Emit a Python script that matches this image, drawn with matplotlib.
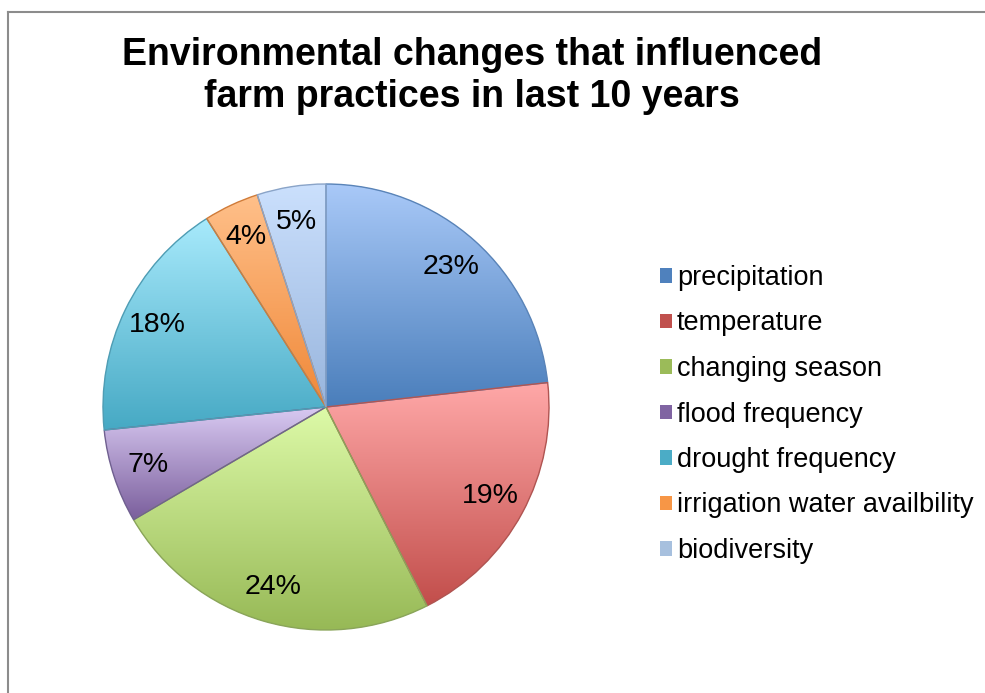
import numpy as np
import matplotlib
matplotlib.use('Agg')
import matplotlib.pyplot as plt
from matplotlib.patches import Wedge
from matplotlib.lines import Line2D
from matplotlib.colors import to_rgb

plt.rcParams['font.family'] = ['Liberation Sans', 'DejaVu Sans']

categories = ['precipitation', 'temperature', 'changing season', 'flood frequency',
              'drought frequency', 'irrigation water availbility', 'biodiversity']
shares = [23.3, 19.3, 24.1, 6.8, 17.7, 4.0, 5.0]

base_colors = ['#4f81bd', '#c0504d', '#9bbb59', '#8064a2', '#4bacc6', '#f79646', '#a7c0de']
top_colors = ['#a9c9f8', '#ffa8a8', '#ddfaa8', '#d9caf2', '#a8eafc', '#ffc08a', '#cbe0fd']
bot_colors = ['#4a7ebb', '#c24e4b', '#97b956', '#7a5e9c', '#46a9c4', '#f08838', '#98b5dd']
edge_colors = ['#5a84b8', '#b05552', '#8aa55a', '#706090', '#4f9db4', '#d07c3a', '#8aa4c8']

fig = plt.figure(figsize=(9.85, 6.93), dpi=100)

# pie area: centre ~ (326, 407) px, radius ~223 px
W, H = 985, 693
cx, cy, r = 326, 407, 223
pad = 1.02
ax = fig.add_axes([(cx - r * pad) / W, (H - cy - r * pad) / H, 2 * r * pad / W, 2 * r * pad / H])

wedges, texts, autotexts = ax.pie(shares, colors=base_colors, startangle=90, counterclock=False,
                                  autopct='%.0f%%', pctdistance=0.84,
                                  textprops={'fontsize': 20.5, 'color': 'black'},
                                  wedgeprops={'linewidth': 0})

# vertical gradient on each slice, light on top, dark at the bottom
for i, w in enumerate(wedges):
    ext = w.get_path().get_extents()
    c0 = np.array(to_rgb(bot_colors[i]))
    c1 = np.array(to_rgb(top_colors[i]))
    t = np.linspace(0, 1, 256)[:, None]
    grad = (c0 * (1 - t) + c1 * t)[:, None, :]
    im = ax.imshow(grad, extent=[ext.x0, ext.x1, ext.y0, ext.y1], origin='lower',
                   aspect='auto', zorder=1.5, interpolation='bilinear')
    im.set_clip_path(w)
    ax.add_patch(Wedge(w.center, w.r, w.theta1, w.theta2, fill=False,
                       edgecolor=edge_colors[i], linewidth=1.0, zorder=1.8))

for t in autotexts:
    t.set_zorder(3)

ax.set_xlim(-pad, pad)
ax.set_ylim(-pad, pad)
ax.set_aspect('auto')
ax.axis('off')

fig.text(472 / W, 1 - 76 / H, 'Environmental changes that influenced\nfarm practices in last 10 years',
         ha='center', va='center', fontsize=27, fontweight='bold', linespacing=1.2)

fig.legend(wedges, categories, loc='upper left', bbox_to_anchor=(660 / W, 1 - 265 / H),
           frameon=False, fontsize=19.5, handlelength=0.45, handleheight=0.45,
           handletextpad=0.18, labelspacing=0.72, borderaxespad=0, borderpad=0)

# chart border (only top and left edges visible)
fig.add_artist(Line2D([7.5 / W, 7.5 / W], [0, 1 - 12 / H], color='#8c8c8c', linewidth=1.5))
fig.add_artist(Line2D([7.5 / W, 1], [1 - 12 / H, 1 - 12 / H], color='#8c8c8c', linewidth=1.5))

fig.savefig('out.png', dpi=100)
